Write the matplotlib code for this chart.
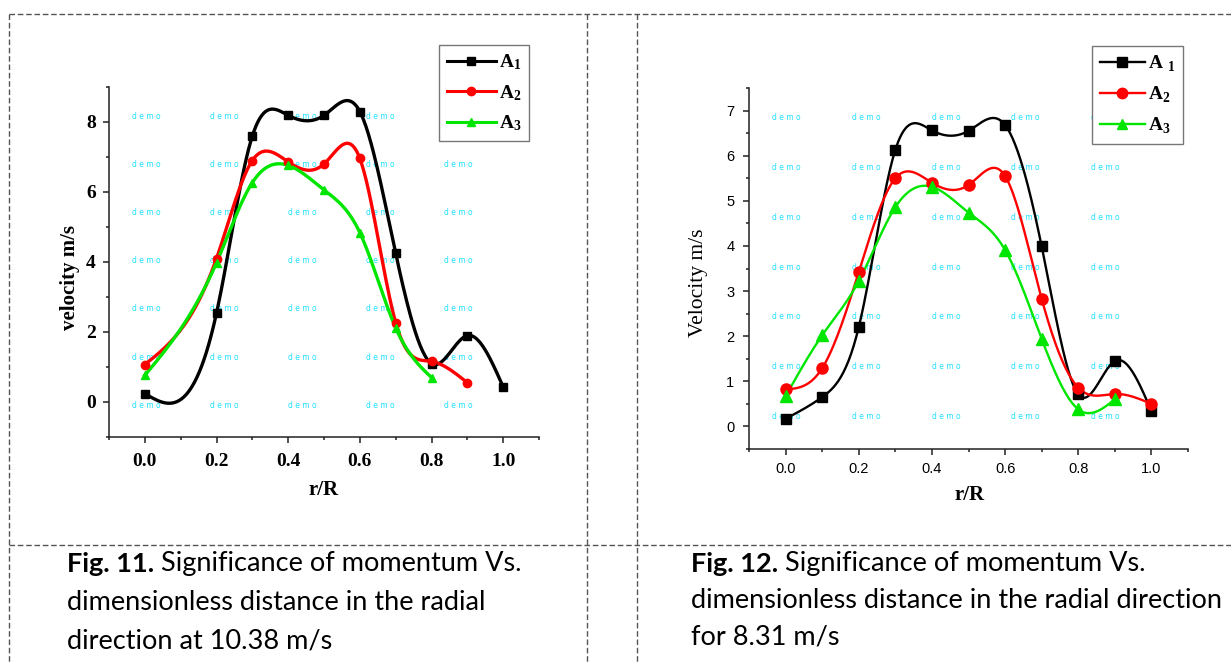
import numpy as np
import matplotlib
matplotlib.use('Agg')
import matplotlib.pyplot as plt
from matplotlib.lines import Line2D
from matplotlib.ticker import MultipleLocator

plt.rcParams['mathtext.fontset'] = 'custom'
plt.rcParams['mathtext.rm'] = 'Liberation Serif'
plt.rcParams['mathtext.bf'] = 'Liberation Serif:bold'

# Fig. 11 (10.38 m/s)
fig11_r_a1 = [0.0, 0.2, 0.3, 0.4, 0.5, 0.6, 0.7, 0.8, 0.9, 1.0]
fig11_a1 = [0.24, 2.54, 7.60, 8.19, 8.19, 8.30, 4.25, 1.10, 1.90, 0.43]
fig11_r_a2 = [0.0, 0.2, 0.3, 0.4, 0.5, 0.6, 0.7, 0.8, 0.9]
fig11_a2 = [1.07, 4.10, 6.90, 6.86, 6.80, 6.96, 2.27, 1.16, 0.55]
fig11_r_a3 = [0.0, 0.2, 0.3, 0.4, 0.5, 0.6, 0.7, 0.8]
fig11_a3 = [0.76, 3.98, 6.27, 6.76, 6.06, 4.84, 2.12, 0.70]

# Fig. 12 (8.31 m/s)
fig12_r = [0.0, 0.1, 0.2, 0.3, 0.4, 0.5, 0.6, 0.7, 0.8, 0.9, 1.0]
fig12_a1 = [0.17, 0.65, 2.20, 6.13, 6.56, 6.55, 6.68, 3.99, 0.71, 1.45, 0.34]
fig12_a2 = [0.82, 1.29, 3.42, 5.50, 5.40, 5.35, 5.55, 2.83, 0.86, 0.72, 0.50]
fig12_r_a3 = [0.0, 0.1, 0.2, 0.3, 0.4, 0.5, 0.6, 0.7, 0.8, 0.9]
fig12_a3 = [0.67, 2.02, 3.22, 4.86, 5.31, 4.74, 3.91, 1.94, 0.38, 0.60]

captions_11 = ["Fig. 11.", " Significance of momentum Vs.",
               "dimensionless distance in the radial", "direction at 10.38 m/s"]
captions_12 = ["Fig. 12.", " Significance of momentum Vs.",
               "dimensionless distance in the radial direction", "for 8.31 m/s"]


def spline(x, y, n=30):
    # natural cubic spline, like Origin's spline connect
    x = np.asarray(x, float)
    y = np.asarray(y, float)
    h = np.diff(x)
    k = len(x)
    A = np.zeros((k, k))
    b = np.zeros(k)
    A[0, 0] = A[-1, -1] = 1
    for i in range(1, k - 1):
        A[i, i - 1] = h[i - 1]
        A[i, i] = 2 * (h[i - 1] + h[i])
        A[i, i + 1] = h[i]
        b[i] = 6 * ((y[i + 1] - y[i]) / h[i] - (y[i] - y[i - 1]) / h[i - 1])
    M = np.linalg.solve(A, b)
    xs, ys = [], []
    for i in range(k - 1):
        t = np.linspace(x[i], x[i + 1], n)
        a = x[i + 1] - t
        c = t - x[i]
        s = (M[i] * a**3 + M[i + 1] * c**3) / (6 * h[i]) \
            + (y[i] / h[i] - M[i] * h[i] / 6) * a + (y[i + 1] / h[i] - M[i + 1] * h[i] / 6) * c
        xs.append(t)
        ys.append(s)
    return np.concatenate(xs), np.concatenate(ys)


W, H = 1231, 663
fig = plt.figure(figsize=(W / 100, H / 100), dpi=100)

colors = ['#000000', '#ff0000', '#00e600']
markers = ['s', 'o', '^']


def style_axes(ax, tickfont, ysteps):
    for s in ['top', 'right']:
        ax.spines[s].set_visible(False)
    for s in ['left', 'bottom']:
        ax.spines[s].set_linewidth(1.1)
        ax.spines[s].set_color('#222222')
    ax.set_xlim(-0.1, 1.1)
    ax.xaxis.set_major_locator(MultipleLocator(0.2))
    ax.xaxis.set_minor_locator(MultipleLocator(0.1))
    ax.yaxis.set_major_locator(MultipleLocator(ysteps[0]))
    ax.yaxis.set_minor_locator(MultipleLocator(ysteps[1]))
    ax.tick_params(which='major', direction='out', length=4.5, width=1.1, color='#222222')
    ax.tick_params(which='minor', direction='out', length=2.5, width=1.1, color='#222222')
    ax.xaxis.set_major_formatter(plt.FuncFormatter(lambda v, p: '%.1f' % v))
    for lab in ax.get_xticklabels() + ax.get_yticklabels():
        lab.update(tickfont)


def watermark(ax):
    for i in range(5):
        for j in range(7):
            ax.text(0.086 + 0.1815 * i, 0.917 - 0.1377 * j, 'd e m o', transform=ax.transAxes,
                    fontsize=5.5, color='#20e0ff', ha='center', va='center', zorder=0)


# left chart
ax1 = fig.add_axes([109 / W, 1 - 437 / H, 430 / W, 350 / H])
ax1.set_ylim(-1, 9)
style_axes(ax1, dict(family='Liberation Serif', weight='bold', size=14), (2, 1))
ax1.tick_params(axis='x', which='major', pad=7)
ax1.tick_params(axis='y', which='major', pad=5)
watermark(ax1)
left_sets = [(fig11_r_a1, fig11_a1), (fig11_r_a2, fig11_a2), (fig11_r_a3, fig11_a3)]
for (xv, yv), c, m in zip(left_sets, colors, markers):
    sx, sy = spline(xv, yv)
    ax1.plot(sx, sy, color=c, lw=2.4, zorder=2)
    ax1.plot(xv, yv, ls='none', marker=m, ms=6 if m != 's' else 5.5, color=c, zorder=3)
ax1.set_xlabel('r/R', family='Liberation Serif', weight='bold', size=15)
ax1.set_ylabel('velocity m/s', family='Liberation Serif', weight='bold', size=15)
ax1.xaxis.set_label_coords(0.498, -0.151)
ax1.yaxis.set_label_coords(-0.091, 0.457)
ax1.xaxis.label.set_va('center')
ax1.yaxis.label.set_va('center')

h1 = [Line2D([0], [0], color=c, lw=2.2, marker=m, ms=6) for c, m in zip(colors, markers)]
fig.legend(h1, [r'$\mathbf{A_1}$', r'$\mathbf{A_2}$', r'$\mathbf{A_3}$'],
           loc='upper right', bbox_to_anchor=(529 / W, 1 - 45 / H), borderaxespad=0,
           fancybox=False, edgecolor='#777777', framealpha=1, prop=dict(size=14),
           handlelength=2.5, handletextpad=0.15, labelspacing=0.55, borderpad=0.4)

# right chart
ax2 = fig.add_axes([749 / W, 1 - 449 / H, 439 / W, 361 / H])
ax2.set_ylim(-0.5, 7.5)
style_axes(ax2, dict(family='Liberation Sans', size=10.5), (1, 0.5))
ax2.tick_params(axis='x', which='major', pad=5)
ax2.tick_params(axis='y', which='major', pad=6)
watermark(ax2)
right_sets = [(fig12_r, fig12_a1), (fig12_r, fig12_a2), (fig12_r_a3, fig12_a3)]
for (xv, yv), c, m in zip(right_sets, colors, markers):
    sx, sy = spline(xv, yv)
    ax2.plot(sx, sy, color=c, lw=1.7, zorder=2)
    ax2.plot(xv, yv, ls='none', marker=m, ms=8 if m != 's' else 7.5, color=c, zorder=3)
ax2.set_xlabel('r/R', family='Liberation Serif', weight='bold', size=15)
ax2.set_ylabel('Velocity m/s', family='Liberation Serif', size=15.5)
ax2.xaxis.set_label_coords(0.503, -0.127)
ax2.yaxis.set_label_coords(-0.116, 0.46)
ax2.xaxis.label.set_va('center')
ax2.yaxis.label.set_va('center')

h2 = [Line2D([0], [0], color=c, lw=1.7, marker=m, ms=7.5) for c, m in zip(colors, markers)]
fig.legend(h2, [r'$\mathbf{A}\;{}_{\mathbf{1}}$', r'$\mathbf{A}_{\mathbf{2}}$', r'$\mathbf{A}_{\mathbf{3}}$'],
           loc='upper right', bbox_to_anchor=(1183 / W, 1 - 46 / H), borderaxespad=0,
           fancybox=False, edgecolor='#777777', framealpha=1, prop=dict(size=14),
           handlelength=2.3, handletextpad=0.15, labelspacing=0.55, borderpad=0.4)

# table borders (dashed)
border = dict(color='#555555', lw=1, ls=(0, (4, 2)))
for x0 in [9, 587, 637]:
    fig.add_artist(Line2D([x0 / W, x0 / W], [1 - 14 / H, 0], **border))
for y0 in [14, 545]:
    fig.add_artist(Line2D([9 / W, 1], [1 - y0 / H, 1 - y0 / H], **border))

# captions
renderer = fig.canvas.get_renderer()
cap_font = dict(family='Lato', size=19.5, va='center', ha='left')
for caps, x0, ys in [(captions_11, 67, [564, 603, 641]), (captions_12, 691, [564, 601, 637])]:
    t = fig.text(x0 / W, 1 - ys[0] / H, caps[0], weight='bold', **cap_font)
    bb = t.get_window_extent(renderer)
    fig.text(bb.x1 / W, 1 - ys[0] / H, caps[1], **cap_font)
    fig.text(x0 / W, 1 - ys[1] / H, caps[2], **cap_font)
    fig.text(x0 / W, 1 - ys[2] / H, caps[3], **cap_font)

fig.savefig('out.png', dpi=100)
